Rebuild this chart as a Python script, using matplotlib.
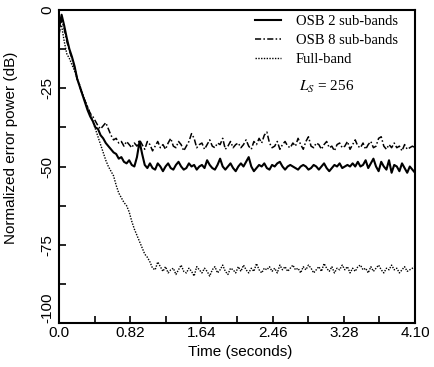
import numpy as np
import matplotlib
matplotlib.use('Agg')
import matplotlib.pyplot as plt
from matplotlib.ticker import MultipleLocator

plt.rcParams['font.family'] = ['Liberation Sans', 'DejaVu Sans']
plt.rcParams['mathtext.fontset'] = 'stix'

osb2 = [-6, -1.5, -5, -9, -12.5, -15, -18, -22, -24.5, -27,
        -29.5, -32, -34, -35.5, -37.5, -38, -40, -41, -42.5, -43.5,
        -44.5, -45.5, -46, -47.5, -47, -48.5, -49, -48, -49.5, -50,
        -47, -42, -46, -49.5, -50.5, -49, -50.5, -51, -49, -50,
        -51.5, -50, -49, -50.5, -51, -49.5, -48.5, -50, -51, -50.5,
        -49, -50, -49.5, -51, -50, -49.5, -50.5, -48, -49.5, -50.5,
        -51, -49.5, -47.5, -50, -51, -50, -49, -50.5, -51.5, -50,
        -49, -50, -48.5, -47, -50, -51.5, -50.5, -49.5, -50, -49,
        -50.5, -51, -49.5, -50, -49, -48.5, -50, -51, -50, -49.5,
        -50, -50.5, -51, -50, -49.5, -50, -51, -50.5, -49.5, -50,
        -51, -50, -49, -50.5, -51.5, -50.5, -49.5, -50, -49, -50.5,
        -50, -49.5, -50, -49, -50, -48.5, -50, -49.5, -48, -50.5,
        -49, -47.5, -50, -51.5, -48.5, -50, -51, -48, -52, -49.5,
        -50, -51.5, -49, -50.5, -52, -50, -51, -52]

osb8 = [-8, -3, -6, -10, -13, -15.5, -18.5, -22, -24.5, -27,
        -29, -31, -33, -34, -35.5, -37, -38, -37, -36, -38,
        -40, -41.5, -41, -42.5, -42, -43.5, -42, -43, -44, -42.5,
        -43.5, -41.5, -43, -44.5, -42, -43, -45, -43.5, -42, -44,
        -43, -44.5, -42.5, -41, -43.5, -44, -42, -43, -45, -43.5,
        -42, -39.5, -41, -44, -43, -42.5, -44.5, -43, -41.5, -43.5,
        -44, -42.5, -43, -41, -44.5, -43.5, -42, -44, -43, -42.5,
        -44, -43, -41.5, -43.5, -44.5, -42, -43, -41, -42.5, -40,
        -39, -42.5, -44, -43.5, -42, -44.5, -43, -42, -43.5, -44,
        -42.5, -43.5, -41, -43, -44.5, -42, -40.5, -43.5, -44, -42.5,
        -43, -44.5, -43, -42, -44, -43.5, -45, -43, -42.5, -44,
        -43.5, -42, -44.5, -43, -41.5, -43.5, -44, -42.5, -44.5, -43,
        -42, -44, -43.5, -41, -40.5, -43.5, -44.5, -43, -44, -42.5,
        -44, -43.5, -45, -43, -44.5, -44, -43.5, -44]

fullband = [-5, -5, -10, -14, -15.5, -17.5, -19.5, -22, -24, -26.5,
            -29, -31, -33, -35.5, -38, -40.5, -43, -45.5, -48, -50,
            -51.5, -53, -56, -58.5, -60, -61.5, -62.5, -64.5, -67.5, -70,
            -72, -74, -76, -78, -79, -80.5, -82.5, -83, -80.5, -82,
            -83.5, -82, -84, -83, -82.5, -84.5, -83, -81.5, -83.5, -84,
            -82.5, -83.5, -85, -82, -83, -84, -82.5, -83.5, -85, -83,
            -82, -84, -83, -81.5, -83.5, -84.5, -82.5, -83, -84, -82,
            -83.5, -81.5, -83, -84, -82.5, -83.5, -81, -83, -84, -82.5,
            -83, -82, -83.5, -82.5, -84, -81.5, -83, -82, -83.5, -82.5,
            -81.5, -83, -82.5, -84, -82, -83, -81.5, -82.5, -84, -83,
            -82, -83.5, -81, -82.5, -83.5, -82, -84, -82.5, -83, -81.5,
            -83, -82, -84, -82.5, -83.5, -82, -81.5, -83, -82.5, -84,
            -82, -83.5, -82.5, -81.5, -83, -84, -82.5, -83, -81.5, -83,
            -82.5, -84, -83, -82, -83.5, -83, -82.5, -82]

t = np.linspace(0, 4.10, len(osb2))

xticks = [0.0, 0.82, 1.64, 2.46, 3.28, 4.10]
xticklabels = ['0.0', '0.82', '1.64', '2.46', '3.28', '4.10']
yticks = [0, -25, -50, -75, -100]

fig = plt.figure(figsize=(4.35, 3.67), dpi=100)
ax = fig.add_axes([59/435, 1 - 323/367, 356/435, 313/367])

ax.plot(t, osb2, color='black', lw=1.5, ls='-', label='OSB 2 sub-bands')
ax.plot(t, osb8, color='black', lw=1.1, ls=(0, (4, 1.5, 1, 1.5)), label='OSB 8 sub-bands')
ax.plot(t, fullband, color='black', lw=1.0, ls=(0, (1, 1)), label='Full-band')

ax.set_xlim(0, 4.10)
ax.set_ylim(-100, 0)
ax.set_xticks(xticks)
ax.set_xticklabels(xticklabels)
ax.set_yticks(yticks)
ax.set_yticklabels([str(v) for v in yticks], rotation=90, va='center')
# lowest label sits above the corner, clear of "0.0"
ax.get_yticklabels()[-1].set_va('bottom')
ax.xaxis.set_minor_locator(MultipleLocator(0.41))
ax.yaxis.set_minor_locator(MultipleLocator(12.5))
ax.tick_params(which='both', direction='in', length=5, width=1.2, labelsize=11,
               top=False, right=False)
ax.tick_params(axis='x', pad=2.5)
for s in ax.spines.values():
    s.set_linewidth(1.5)

ax.set_xlabel('Time (seconds)', fontsize=11)
ax.set_ylabel('Normalized error power (dB)', fontsize=11)
ax.yaxis.set_label_coords(-0.115, 0.56)
ax.xaxis.set_label_coords(0.51, -0.07)

leg = ax.legend(loc='upper left', bbox_to_anchor=(0.55, 0.985), frameon=False,
                prop={'family': 'Liberation Serif', 'size': 10.5},
                handlelength=1.8, handletextpad=1.0, labelspacing=0.4,
                borderpad=0, borderaxespad=0)
ax.text(0.674, 0.754, '$L_S$ = 256', transform=ax.transAxes,
        family='Liberation Serif', fontsize=11, va='center')

fig.savefig('out.png', dpi=100)
